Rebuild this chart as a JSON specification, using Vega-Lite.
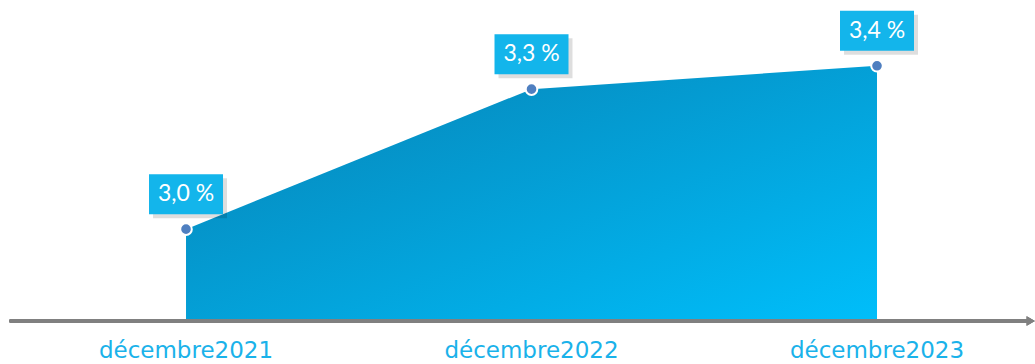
{
  "$schema": "https://vega.github.io/schema/vega-lite/v6.json",
  "width": 1035,
  "height": 364,
  "autosize": {"type": "fit", "contains": "padding"},
  "padding": 0,
  "background": "white",
  "config": {"view": {"stroke": null}},
  "data": {"values": [
    {"annee": 2021, "valeur": 3.0, "etiquette": "3,0 %", "periode": "décembre2021"},
    {"annee": 2022, "valeur": 3.3, "etiquette": "3,3 %", "periode": "décembre2022"},
    {"annee": 2023, "valeur": 3.35, "etiquette": "3,4 %", "periode": "décembre2023"}
  ]},
  "encoding": {
    "x": {"field": "annee", "type": "quantitative", "scale": {"domain": [2020.4616, 2023.4573], "nice": false, "zero": false}, "axis": null}
  },
  "layer": [
    {
      "mark": {"type": "area", "color": {"gradient": "linear", "x1": 0, "y1": 0, "x2": 1, "y2": 1, "stops": [{"offset": 0, "color": "#0781b3"}, {"offset": 1, "color": "#00befa"}]}},
      "encoding": {
        "y": {"field": "valeur", "type": "quantitative", "scale": {"domain": [2.711, 3.491], "nice": false, "zero": false}, "axis": null},
        "y2": {"datum": 2.8075}
      }
    },
    {
      "mark": {"type": "rule", "color": "#808080", "strokeWidth": 4, "strokeCap": "round"},
      "encoding": {
        "x": {"datum": 2020.4935},
        "x2": {"datum": 2023.44},
        "y": {"datum": 2.8032}
      }
    },
    {
      "mark": {"type": "point", "shape": "triangle-right", "filled": true, "color": "#808080", "size": 90, "opacity": 1},
      "encoding": {
        "x": {"datum": 2023.445},
        "y": {"datum": 2.8032}
      }
    },
    {
      "mark": {"type": "point", "filled": true, "shape": "circle", "size": 135, "color": "#4f7fc0", "stroke": "white", "strokeWidth": 2, "opacity": 1},
      "encoding": {"y": {"field": "valeur", "type": "quantitative"}}
    },
    {
      "mark": {"type": "point", "filled": true, "shape": "M-1.85,-1H1.85V1H-1.85Z", "size": 1600, "color": "#000000", "opacity": 0.13, "yOffset": -31, "xOffset": 4},
      "encoding": {"y": {"field": "valeur", "type": "quantitative"}}
    },
    {
      "mark": {"type": "point", "filled": true, "shape": "M-1.85,-1H1.85V1H-1.85Z", "size": 1600, "color": "#13b5eb", "opacity": 1, "yOffset": -35},
      "encoding": {"y": {"field": "valeur", "type": "quantitative"}}
    },
    {
      "mark": {"type": "text", "color": "white", "font": "Lato", "fontSize": 23, "baseline": "middle", "align": "center", "yOffset": -35},
      "encoding": {"y": {"field": "valeur", "type": "quantitative"}, "text": {"field": "etiquette"}}
    },
    {
      "mark": {"type": "text", "color": "#1ab2ea", "font": "DejaVu Sans", "fontSize": 23, "baseline": "middle", "align": "center"},
      "encoding": {"y": {"datum": 2.7389}, "text": {"field": "periode"}}
    }
  ]
}
